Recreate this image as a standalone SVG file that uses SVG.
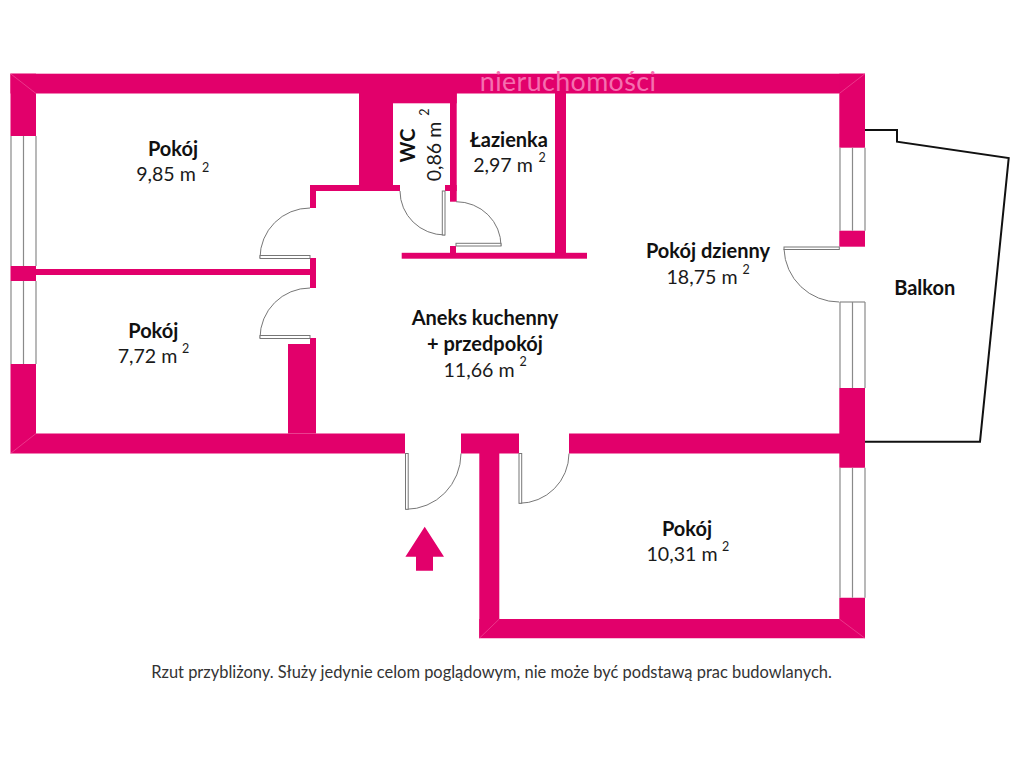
<svg xmlns="http://www.w3.org/2000/svg" width="1024" height="768" viewBox="0 0 1024 768">
<style>
.w{fill:#e2006b}
.l{fill:#fff;stroke:#777;stroke-width:1}
.a{fill:#fff;stroke:#777;stroke-width:1}
.g{fill:none;stroke:#8a8a8a;stroke-width:1.2}
.m{fill:none;stroke:#f25aa0;stroke-width:.6}
text{font-family:Lato,"Open Sans",sans-serif;fill:#1a1a1a;text-anchor:middle}
.b{font-size:20px;font-weight:700;fill:#111}
.t{font-size:19.600px}
.s{font-size:12.500px}
</style>
<rect width="1024" height="768" fill="#fff"/>
<g id="walls">
<rect class="w" x="10.500" y="73.700" width="854.500" height="19.800"/>
<rect class="w" x="10.500" y="73.700" width="25.500" height="62.300"/>
<rect class="w" x="839.300" y="73.700" width="25.700" height="74"/>
<rect class="w" x="359" y="93" width="34" height="98"/>
<rect class="w" x="393" y="93" width="63.700" height="10.300"/>
<rect class="w" x="310" y="185" width="90" height="6"/>
<rect class="w" x="445" y="185" width="11.700" height="6"/>
<rect class="w" x="450" y="93" width="6.700" height="108.700"/>
<rect class="w" x="555" y="93" width="11" height="160"/>
<rect class="w" x="401.700" y="252.800" width="185.300" height="5.900"/>
<rect class="w" x="450" y="246" width="6" height="7"/>
<rect class="w" x="310" y="185" width="6" height="23"/>
<rect class="w" x="310" y="258" width="6" height="30"/>
<rect class="w" x="36" y="269" width="274" height="6"/>
<rect class="w" x="10.500" y="266" width="25.500" height="15"/>
<path class="w" d="M310 338H316V433.500H288V344H310Z"/>
<path class="w" d="M10.500 364H36V433.500H405V453.500H10.500Z"/>
<rect class="w" x="461" y="433.500" width="58" height="20"/>
<rect class="w" x="479.300" y="453" width="20" height="185"/>
<path class="w" d="M569 433.500H839.300V388H865V467.700H839.300V453.500H569Z"/>
<path class="w" d="M479.300 619H839.300V597.700H865V638.300H479.300Z"/>
<rect class="w" x="839.300" y="230.700" width="25.700" height="16"/>
<path class="m" d="M10.500 73.700 36 93.500M865 73.700 839.300 93.500M10.500 453.500 36 433.500M479.300 638.300 499.300 619M865 638.300 839.300 619"/>
</g>
<g id="windows">
<path class="g" d="M11 136V266M23.500 136V266M36 136V266M11 281V364M23.500 281V364M36 281V364"/>
<path class="g" d="M840 147.700V230.700M852.500 147.700V230.700M865 147.700V230.700M840 302V388M852.500 302V388M865 302V388M840 467.700V597.700M852.500 467.700V597.700M865 467.700V597.700"/>
<path class="g" d="M840 302H865"/>
</g>
<g id="doors">
<path class="a" d="M310 208A50 50 0 0 0 260 258"/><rect class="l" x="260" y="255.500" width="50" height="3"/>
<path class="a" d="M310 288A50 50 0 0 0 260 338"/><rect class="l" x="260" y="335.500" width="50" height="3"/>
<path class="a" d="M400 191A45 44 0 0 0 445 235"/><rect class="l" x="442.300" y="191" width="2.700" height="44"/>
<path class="a" d="M456 201.700A45 44 0 0 1 501 246"/><rect class="l" x="456" y="243.300" width="45" height="2.700"/>
<path class="a" d="M839.300 302A55 55 0 0 1 784 249"/><rect class="l" x="784" y="247" width="55.300" height="2.500"/>
<path class="a" d="M461 453.500A55 56 0 0 1 406 509.300"/><rect class="l" x="405.500" y="453.500" width="2.700" height="55.800"/>
<path class="a" d="M569 453.500A50 50 0 0 1 519 503.300"/><rect class="l" x="519" y="453.500" width="2.700" height="49.800"/>
</g>
<g id="balcony"><path d="M865 130H897V141.700L1008.700 158L980 441.700H865" fill="none" stroke="#111" stroke-width="2"/></g>
<g id="entry"><path class="w" d="M424.700 526.700 444 556.700H433V570.700H416V556.700H405.400Z"/></g>
<text x="568" y="91" style="font-size:26.800px;fill:#f56fb0;font-weight:400;letter-spacing:.4px">nieruchomości</text>
<g id="room-1"><text class="b" x="173" y="156">Pokój</text><text class="t" x="166" y="181">9,85 m</text><text class="s" x="205.700" y="171.700">2</text></g>
<g id="room-2"><text class="b" x="153.300" y="337.500">Pokój</text><text class="t" x="147.500" y="363">7,72 m</text><text class="s" x="185.700" y="352.700">2</text></g>
<g id="room-wc"><text class="b" transform="translate(415 145.600) rotate(-90)">WC</text><text class="t" transform="translate(441 151.500) rotate(-90)">0,86 m</text><text class="s" transform="translate(429 112) rotate(-90)">2</text></g>
<g id="room-bath"><text class="b" x="509" y="147">Łazienka</text><text class="t" x="503" y="172">2,97 m</text><text class="s" x="542" y="161.700">2</text></g>
<g id="room-living"><text class="b" x="708" y="258">Pokój dzienny</text><text class="t" x="702" y="284">18,75 m</text><text class="s" x="746" y="274">2</text></g>
<g id="room-balcony"><text class="b" x="924.700" y="295">Balkon</text></g>
<g id="room-kitchen"><text class="b" x="485" y="324.500">Aneks kuchenny</text><text class="b" x="485" y="350.500">+ przedpokój</text><text class="t" x="479" y="376.500">11,66 m</text><text class="s" x="523" y="366">2</text></g>
<g id="room-3"><text class="b" x="687" y="536">Pokój</text><text class="t" x="682" y="561">10,31 m</text><text class="s" x="725.500" y="551">2</text></g>
<text x="491.500" y="677.500" style="font-size:16.450px;fill:#333">Rzut przybliżony. Służy jedynie celom poglądowym, nie może być podstawą prac budowlanych.</text>
</svg>
